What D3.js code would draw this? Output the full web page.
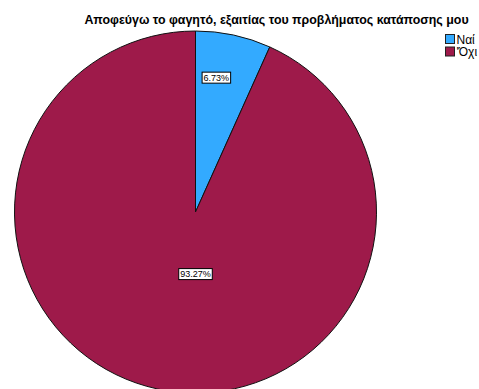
<!DOCTYPE html>
<html>
<head>
<meta charset="utf-8">
<script src="https://cdn.jsdelivr.net/npm/d3@7"></script>
<style>
  html, body { margin: 0; padding: 0; background: #fff; overflow: hidden; }
  svg { display: block; font-family: Arial, "Liberation Sans", sans-serif; }
</style>
</head>
<body>
<svg id="chart" width="479" height="389"></svg>
<script>
// Answers to the question and their shares of respondents (%)
const categories = ["Ναί", "'Όχι"];
const percents = [6.73, 93.27];
const colors = ["#33aaff", "#9e1a4a"];
const title = "Αποφεύγω το φαγητό, εξαιτίας του προβλήματος κατάποσης μου";

const svg = d3.select("#chart");
const cx = 195.5, cy = 212, radius = 181;

svg.append("text")
  .attr("x", 276.5).attr("y", 24)
  .attr("text-anchor", "middle")
  .attr("font-size", 12.4)
  .attr("font-weight", "bold")
  .attr("fill", "#000")
  .text(title);

const pie = d3.pie().sort(null).value(d => d)(percents);
const arc = d3.arc().innerRadius(0).outerRadius(radius);

const g = svg.append("g").attr("transform", `translate(${cx},${cy})`);

g.selectAll("path.slice")
  .data(pie)
  .join("path")
  .attr("class", "slice")
  .attr("d", arc)
  .attr("fill", (d, i) => colors[i])
  .attr("stroke", "#111")
  .attr("stroke-width", 1);

// Percentage labels in small boxed tags
const labelRadius = [0.76, 0.35];
const fmt = d => d.toFixed(2) + "%";
pie.forEach((d, i) => {
  const a = (d.startAngle + d.endAngle) / 2;
  const r = radius * labelRadius[i];
  let x = Math.sin(a) * r, y = -Math.cos(a) * r;
  if (i === 0) { x -= 8; }
  if (i === 1) { x = 0; }
  const lg = g.append("g").attr("transform", `translate(${x},${y})`);
  const t = lg.append("text")
    .attr("text-anchor", "middle")
    .attr("dy", "0.35em")
    .attr("font-size", 9)
    .attr("fill", "#000")
    .text(fmt(percents[i]));
  const bb = t.node().getBBox();
  lg.insert("rect", "text")
    .attr("x", bb.x - 1.5).attr("y", bb.y - 0.5)
    .attr("width", bb.width + 3).attr("height", bb.height + 1)
    .attr("fill", "#fff")
    .attr("stroke", "#000")
    .attr("stroke-width", 1);
});

// Legend
const legend = svg.append("g").attr("transform", "translate(445,34)");
categories.forEach((c, i) => {
  const row = legend.append("g").attr("transform", `translate(0,${i * 12.5})`);
  row.append("rect")
    .attr("x", 0.5).attr("y", 0.5)
    .attr("width", 9).attr("height", 9)
    .attr("fill", colors[i])
    .attr("stroke", "#222");
  row.append("text")
    .attr("x", 11.5).attr("y", 9.5)
    .attr("font-size", 12)
    .attr("fill", "#000")
    .text(c);
});
</script>
</body>
</html>
